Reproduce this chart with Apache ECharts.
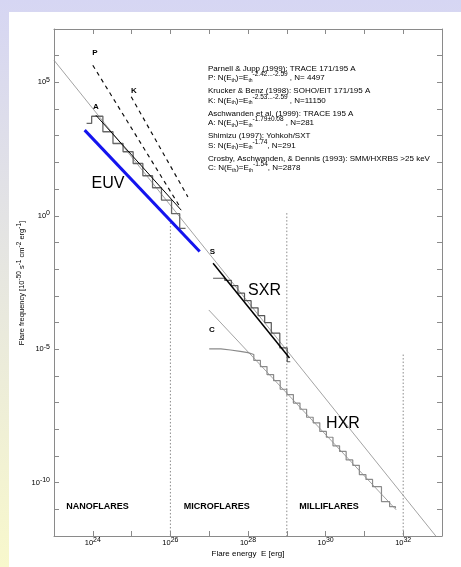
<!DOCTYPE html>
<html><head><meta charset="utf-8">
<script src="https://cdn.jsdelivr.net/npm/echarts@6/dist/echarts.min.js"></script>
<style>html,body{margin:0;padding:0;background:#fff}#c{width:461px;height:567px}</style>
</head><body><div id="c"></div>
<script>
// ---- data (all values are log10 exponents) ----
const xRange = [23, 33];            // log10 E [erg]
const yRange = [-12, 7];            // log10 N
const xLabelExps = [24, 26, 28, 30, 32];
const yLabelExps = [5, 0, -5, -10];

const mainLine = [[23.0, 5.83], [32.84, -12.0]];
const cFit = [[26.99, -3.53], [31.82, -11.02]];
const pLine = [[24.0, 5.64], [26.24, 0.35]];
const kLine = [[24.99, 4.46], [26.45, 0.71]];
const aFit = [[24.08, 3.77], [26.28, 0.21]];
const euvLine = [[23.79, 3.21], [26.755, -1.34]];
const sFit = [[27.10, -1.78], [29.07, -5.33]];

const aEdges = [23.84, 23.97, 24.26, 24.52, 24.78, 25.04, 25.29, 25.54, 25.77, 26.03, 26.24, 26.39];
const aLevels = [3.46, 3.73, 3.15, 2.71, 2.40, 1.96, 1.50, 1.05, 0.59, 0.08, -0.47, -0.47];

const sEdges = [27.10, 27.40, 27.57, 27.74, 27.91, 28.08, 28.26, 28.43, 28.60, 28.82, 29.01, 29.09];
const sLevels = [-2.34, -2.42, -2.62, -2.90, -3.18, -3.45, -3.74, -4.00, -4.40, -4.95, -5.47, -5.47];

const cEdges = [27.00, 27.30, 27.55, 27.80, 28.00, 28.15, 28.32, 28.49, 28.66, 28.83, 29.00, 29.17, 29.34, 29.51,
  29.68, 29.85, 30.02, 30.19, 30.36, 30.53, 30.70, 30.87, 31.04, 31.21, 31.44, 31.65, 31.80];
const cLevels = [-4.99, -5.03, -5.08, -5.13, -5.20, -5.42, -5.65, -5.95, -6.18, -6.50, -6.70, -7.02, -7.25, -7.55,
  -7.76, -8.08, -8.30, -8.62, -8.83, -9.15, -9.35, -9.70, -9.88, -10.15, -10.71, -10.90, -10.96];

const dotLines = [[[26, -0.25], [26, -12]], [[29, 0.1], [29, -12]], [[32, -5.2], [32, -12]]];

const legendLines = [
  'Parnell & Jupp (1999): TRACE 171/195 A',
  'P: N(E{sub|th})=E{sub|th}{sup|-2.42...-2.59} , N= 4497',
  'Krucker & Benz (1998): SOHO/EIT 171/195 A',
  'K: N(E{sub|th})=E{sub|th}{sup|-2.53...-2.59} , N=11150',
  'Aschwanden et al. (1999): TRACE 195 A',
  'A: N(E{sub|th})=E{sub|th}{sup|-1.79\u00b10.08} , N=281',
  'Shimizu (1997): Yohkoh/SXT',
  'S: N(E{sub|th})=E{sub|th}{sup|-1.74}, N=291',
  'Crosby, Aschwanden, & Dennis (1993): SMM/HXRBS >25 keV',
  'C: N(E{sub|th})=E{sub|th}{sup|-1.54}, N=2878'
];
const regionNames = ['NANOFLARES', 'MICROFLARES', 'MILLIFLARES'];
const bandNames = ['EUV', 'SXR', 'HXR'];
const markerNames = ['P', 'K', 'A', 'S', 'C'];

// ---- chart ----
const FF = '"Liberation Sans", Arial, Helvetica, sans-serif';
const chart = echarts.init(document.getElementById('c'));
const pairs = (e, l) => e.map((v, i) => [v, l[i]]);
const ln = (data, color, width, type, step, z) => ({
  type: 'line', data, symbol: 'none', showSymbol: false, step: step || false, silent: true,
  animation: false, lineStyle: { color, width, type: type || 'solid' }, z: z || 2
});

const supRich = {
  b: { fontSize: 7.5, fontFamily: FF, color: '#000', lineHeight: 12, verticalAlign: 'middle' },
  s: { fontSize: 7, fontFamily: FF, color: '#000', lineHeight: 6, verticalAlign: 'top' }
};
const axisGray = '#8a8a8a';
const baseAxis = (show, pos) => ({
  type: 'value', position: pos, interval: 1,
  axisLine: { show: true, onZero: false, lineStyle: { color: axisGray, width: 1 } },
  axisTick: { show: true, inside: true, length: 5, lineStyle: { color: axisGray, width: 1 } },
  splitLine: { show: false }
});

const legRich = {
  n: { fontSize: 8, fontFamily: FF, color: '#000', lineHeight: 14, verticalAlign: 'middle' },
  sub: { fontSize: 5, fontFamily: FF, color: '#000', lineHeight: 5, verticalAlign: 'middle', padding: [5, 0, 0, 0] },
  sup: { fontSize: 6.5, fontFamily: FF, color: '#000', lineHeight: 6, verticalAlign: 'top' }
};
function wrapN(t) {
  const parts = [];
  const re = /\{(sub|sup)\|([^}]*)\}/g; let m, last = 0;
  while ((m = re.exec(t)) !== null) {
    if (m.index > last) parts.push('{n|' + t.slice(last, m.index) + '}');
    parts.push(m[0]); last = re.lastIndex;
  }
  if (last < t.length) parts.push('{n|' + t.slice(last) + '}');
  return parts.join('');
}
const legY = [68.5, 78, 91, 100.5, 113.5, 123, 136, 145.5, 158.5, 168];
const txt = (text, x, y, size, opts) => Object.assign({
  type: 'text', z: 100, silent: true,
  style: Object.assign({ text, x, y, fontSize: size, fontFamily: FF, fill: '#000',
    align: 'center', verticalAlign: 'middle', textAlign: 'center', textVerticalAlign: 'middle' }, (opts && opts.style) || {})
}, (opts && opts.el) || {});

const graphics = [
  { type: 'rect', z: -100, silent: true, shape: { x: 0, y: 0, width: 461, height: 567 },
    style: { fill: new echarts.graphic.LinearGradient(0, 0, 0, 1, [{ offset: 0, color: '#d6d6f3' }, { offset: 1, color: '#f8f8cc' }]) } },
  { type: 'rect', z: -99, silent: true, shape: { x: 9, y: 12, width: 452, height: 555 }, style: { fill: '#fff' } }
];
legendLines.forEach((t, i) => graphics.push({
  type: 'text', z: 100, silent: true,
  style: { text: wrapN(t), x: 208, y: legY[i], rich: legRich, align: 'left', verticalAlign: 'middle',
    textAlign: 'left', textVerticalAlign: 'middle', fill: '#000', fontSize: 8, fontFamily: FF }
}));
const markerPos = [[95, 53], [134, 91], [96, 107], [212.5, 251.5], [212, 330]];
markerNames.forEach((t, i) => graphics.push(txt(t, markerPos[i][0], markerPos[i][1], 8, { style: { fontWeight: 'bold' } })));
const bandPos = [[108, 184], [264.5, 291], [343, 424]];
bandNames.forEach((t, i) => graphics.push(txt(t, bandPos[i][0], bandPos[i][1], 16)));
const regionX = [97.5, 216.7, 329];
regionNames.forEach((t, i) => graphics.push(txt(t, regionX[i], 506.5, 9, { style: { fontWeight: 'bold' } })));
graphics.push(txt('Flare energy  E [erg]', 248, 553.5, 8));
graphics.push({
  type: 'text', z: 100, silent: true, x: 22, y: 283, rotation: Math.PI / 2,
  style: { text: wrapN('Flare frequency [10{sup|-50} s{sup|-1} cm{sup|-2} erg{sup|-1}]'),
    x: 0, y: 0, rich: {
      n: { fontSize: 7.5, fontFamily: FF, color: '#000', lineHeight: 12, verticalAlign: 'middle' },
      sup: { fontSize: 6.5, fontFamily: FF, color: '#000', lineHeight: 6, verticalAlign: 'top' } },
    align: 'center', verticalAlign: 'middle', textAlign: 'center', textVerticalAlign: 'middle', fill: '#000' }
});

const option = {
  animation: false,
  grid: { left: 54, right: 19, top: 29, bottom: 31, containLabel: false },
  xAxis: [
    Object.assign(baseAxis(true, 'bottom'), { min: xRange[0], max: xRange[1],
      axisLabel: { show: true, margin: 1, rich: supRich,
        formatter: v => xLabelExps.indexOf(v) >= 0 ? '{b|10}{s|' + v + '}' : '' } }),
    Object.assign(baseAxis(false, 'top'), { min: xRange[0], max: xRange[1], axisLabel: { show: false } })
  ],
  yAxis: [
    Object.assign(baseAxis(true, 'left'), { min: yRange[0], max: yRange[1],
      axisLabel: { show: true, margin: 4, rich: supRich,
        formatter: v => yLabelExps.indexOf(v) >= 0 ? '{b|10}{s|' + v + '}' : '' } }),
    Object.assign(baseAxis(false, 'right'), { min: yRange[0], max: yRange[1], axisLabel: { show: false } })
  ],
  graphic: graphics,
  series: [
    ln(mainLine, '#8c8c8c', 0.8),
    ln(cFit, '#8c8c8c', 0.8),
    ...dotLines.map(d => ln(d, '#8a8a8a', 1, [1.5, 2])),
    ln(pLine, '#111', 1.2, [4, 4]),
    ln(kLine, '#111', 1.2, [4, 4]),
    ln(pairs(aEdges, aLevels), '#666', 1.3, 'solid', 'end'),
    ln(aFit, '#000', 1),
    ln(euvLine, '#1414ee', 3),
    ln(pairs(sEdges, sLevels), '#555', 1.2, 'solid', 'end'),
    ln(sFit, '#000', 1.5),
    ln(pairs(cEdges, cLevels), '#8a8a8a', 1.2, 'solid', 'end')
  ]
};
chart.setOption(option);
</script></body></html>
